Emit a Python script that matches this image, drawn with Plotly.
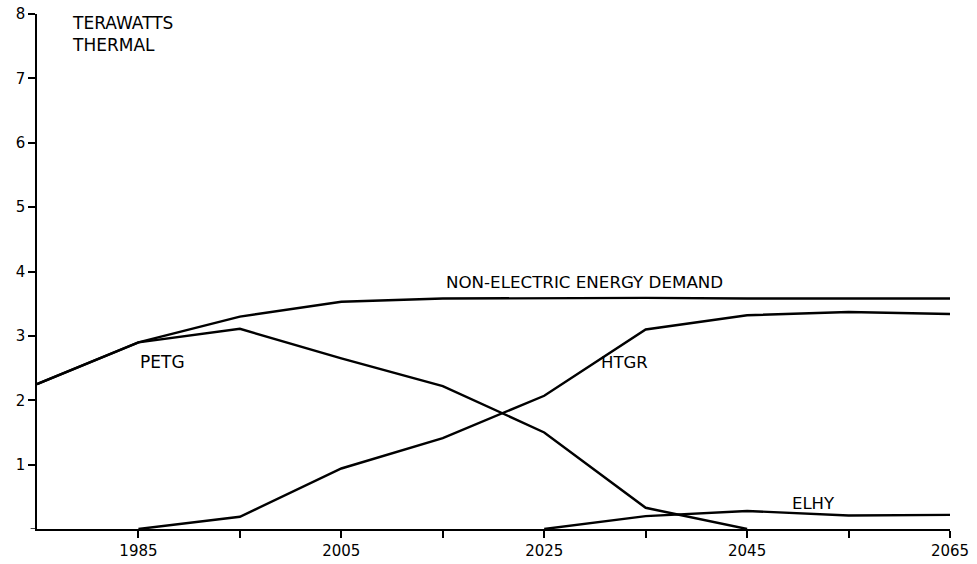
import plotly.graph_objects as go

years = [1975, 1985, 1995, 2005, 2015, 2025, 2035, 2045, 2055, 2065]
non_electric = [2.25, 2.9, 3.3, 3.53, 3.58, 3.59, 3.59, 3.58, 3.58, 3.58]

petg_years = [1975, 1985, 1995, 2005, 2015, 2025, 2035, 2045]
petg = [2.25, 2.9, 3.11, 2.65, 2.22, 1.5, 0.33, 0.0]

htgr_years = [1985, 1995, 2005, 2015, 2025, 2035, 2045, 2055, 2065]
htgr = [0.0, 0.19, 0.94, 1.41, 2.07, 3.1, 3.32, 3.37, 3.34]

elhy_years = [2025, 2035, 2045, 2055, 2065]
elhy = [0.0, 0.2, 0.28, 0.21, 0.22]

x_ticks = [1985, 1995, 2005, 2015, 2025, 2035, 2045, 2055, 2065]
x_labels = ["1985", "", "2005", "", "2025", "", "2045", "", "2065"]
y_ticks = [1, 2, 3, 4, 5, 6, 7, 8]
y_labels = ["1", "2", "3", "4", "5", "6", "7", "8"]

FONT = "DejaVu Sans"
line = dict(color="black", width=2.4)

fig = go.Figure()
fig.add_trace(go.Scatter(x=years, y=non_electric, mode="lines", line=line, name="NON-ELECTRIC ENERGY DEMAND"))
fig.add_trace(go.Scatter(x=petg_years, y=petg, mode="lines", line=line, name="PETG"))
fig.add_trace(go.Scatter(x=htgr_years, y=htgr, mode="lines", line=line, name="HTGR"))
fig.add_trace(go.Scatter(x=elhy_years, y=elhy, mode="lines", line=line, name="ELHY"))

anns = [
    dict(x=1978.3, y=7.86, text="TERAWATTS", xanchor="left", yanchor="middle", size=17),
    dict(x=1978.3, y=7.52, text="THERMAL", xanchor="left", yanchor="middle", size=17),
    dict(x=2015.1, y=3.83, text="NON-ELECTRIC ENERGY DEMAND", xanchor="left", yanchor="middle", size=16.7),
    dict(x=1985.0, y=2.6, text="PETG", xanchor="left", yanchor="middle", size=17),
    dict(x=2030.4, y=2.59, text="HTGR", xanchor="left", yanchor="middle", size=16.5),
    dict(x=2049.2, y=0.4, text="ELHY", xanchor="left", yanchor="middle", size=16.5),
]
for a in anns:
    sz = a.pop("size")
    a.update(xref="x", yref="y", showarrow=False, font=dict(family=FONT, size=sz, color="black"))
    fig.add_annotation(**a)

# small extension of the x axis line left of the y axis
fig.add_shape(type="line", xref="paper", yref="y", x0=-0.007, x1=0, y0=0, y1=0,
              line=dict(color="black", width=1.5))

fig.update_layout(
    width=977, height=564,
    margin=dict(l=37, r=27, t=14, b=35, autoexpand=False),
    paper_bgcolor="white", plot_bgcolor="white",
    showlegend=False,
    font=dict(family=FONT, size=15, color="black"),
)
fig.update_xaxes(range=[1975, 2065], showgrid=False, zeroline=False, automargin=False,
                 showline=True, linecolor="black", linewidth=1.5,
                 ticks="outside", ticklen=7, tickwidth=1.5, tickcolor="black",
                 tickvals=x_ticks, ticktext=x_labels,
                 tickfont=dict(family=FONT, size=15, color="black"))
fig.update_yaxes(range=[0, 8], showgrid=False, zeroline=False, automargin=False,
                 showline=True, linecolor="black", linewidth=1.5,
                 ticks="outside", ticklen=7, tickwidth=1.5, tickcolor="black",
                 tickvals=y_ticks, ticktext=y_labels,
                 tickfont=dict(family=FONT, size=15, color="black"))

fig.write_html(
    "out.html",
    config={"displayModeBar": False},
    post_script="document.body.style.margin='0';document.body.style.padding='0';document.body.style.overflow='hidden';",
)
